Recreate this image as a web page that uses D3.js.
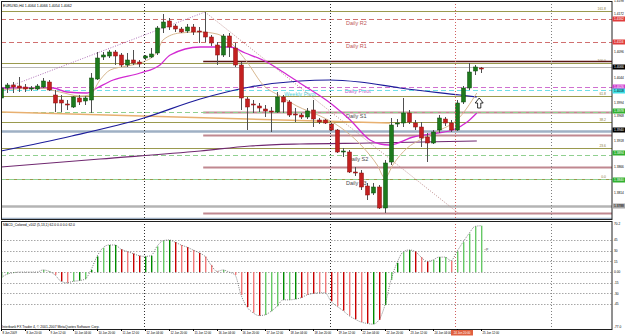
<!DOCTYPE html>
<html>
<head>
<meta charset="utf-8">
<script src="https://cdn.jsdelivr.net/npm/d3@7"></script>
<style>
	body { margin: 0; background: #fff; }
	svg { display: block; }
	text { font-family: "Liberation Sans", Arial, sans-serif; }
</style>
</head>
<body>
<script>
// EURUSD H4 candles, one entry per bar
const opens = [1.4004,1.4024,1.4030,1.4028,1.4026,1.4022,1.4022,1.4026,1.4036,1.4010,
	1.4000,1.3992,1.3986,1.4004,1.3998,1.4000,1.4042,1.4086,1.4088,1.4096,
	1.4090,1.4070,1.4080,1.4076,1.4084,1.4086,1.4094,1.4144,1.4158,1.4148,
	1.4142,1.4138,1.4146,1.4138,1.4136,1.4126,1.4110,1.4090,1.4128,1.4104,
	1.4070,1.4002,1.3992,1.3988,1.3982,1.3978,1.3976,1.4006,1.3996,1.3972,
	1.3970,1.3966,1.3980,1.3960,1.3960,1.3952,1.3940,1.3896,1.3896,1.3856,
	1.3854,1.3828,1.3814,1.3826,1.3784,1.3876,1.3952,1.3954,1.3974,1.3954,
	1.3946,1.3926,1.3914,1.3940,1.3962,1.3954,1.3940,1.3996,1.4024,1.4058,1.4064];
const highs = [1.4028,1.4034,1.4036,1.4046,1.4032,1.4028,1.4032,1.4044,1.4040,1.4020,
	1.4010,1.4000,1.4008,1.4010,1.4008,1.4054,1.4096,1.4096,1.4100,1.4100,
	1.4094,1.4094,1.4100,1.4080,1.4090,1.4104,1.4148,1.4172,1.4164,1.4152,
	1.4146,1.4152,1.4152,1.4146,1.4176,1.4130,1.4116,1.4132,1.4134,1.4114,
	1.4076,1.4006,1.4000,1.3994,1.3990,1.3986,1.4016,1.4010,1.4000,1.3984,
	1.3974,1.3984,1.4000,1.3964,1.3962,1.3954,1.3942,1.3904,1.3900,1.3866,
	1.3860,1.3834,1.3834,1.3830,1.3880,1.3964,1.3962,1.4004,1.3980,1.3960,
	1.3956,1.3934,1.3940,1.3970,1.3966,1.3960,1.4000,1.4028,1.4074,1.4070,1.4066];
const lows = [1.4000,1.4014,1.4014,1.4016,1.4016,1.4018,1.4020,1.4024,1.4018,1.3976,
	1.3976,1.3980,1.3984,1.3990,1.3990,1.3974,1.4040,1.4080,1.4084,1.4070,
	1.4066,1.4066,1.4070,1.4066,1.4080,1.4084,1.4090,1.4134,1.4140,1.4136,
	1.4134,1.4134,1.4130,1.4114,1.4116,1.4108,1.4070,1.4086,1.4086,1.4066,
	1.3980,1.3940,1.3974,1.3976,1.3966,1.3936,1.3974,1.3974,1.3966,1.3956,
	1.3962,1.3962,1.3946,1.3952,1.3952,1.3938,1.3894,1.3886,1.3854,1.3848,
	1.3820,1.3800,1.3810,1.3782,1.3774,1.3870,1.3946,1.3946,1.3952,1.3940,
	1.3906,1.3876,1.3912,1.3934,1.3948,1.3936,1.3938,1.3992,1.4020,1.4050,1.4054];
const closes = [1.4024,1.4030,1.4026,1.4024,1.4022,1.4024,1.4028,1.4038,1.4020,1.3994,
	1.3994,1.3990,1.4006,1.3996,1.4004,1.4044,1.4084,1.4090,1.4096,1.4088,
	1.4070,1.4080,1.4074,1.4072,1.4088,1.4092,1.4144,1.4156,1.4146,1.4142,
	1.4136,1.4146,1.4136,1.4136,1.4126,1.4114,1.4090,1.4128,1.4106,1.4070,
	1.4004,1.3986,1.3990,1.3984,1.3978,1.3976,1.4006,1.3996,1.3970,1.3970,
	1.3966,1.3978,1.3962,1.3956,1.3954,1.3940,1.3896,1.3898,1.3856,1.3854,
	1.3826,1.3810,1.3826,1.3784,1.3874,1.3950,1.3954,1.3974,1.3956,1.3946,
	1.3924,1.3914,1.3936,1.3964,1.3954,1.3940,1.3994,1.4024,1.4056,1.4066,1.4062];

// MACD histogram, one value per bar
const macdValues = [-8,-3,-1,0,0,0,0,3,1,-4,
	-13,-15,-13,-12,-10,3,22,34,38,38,
	32,29,26,23,22,23,36,44,45,42,
	38,35,31,27,22,10,1,3,0,-4,
	-32,-49,-57,-61,-60,-55,-48,-39,-39,-38,
	-36,-32,-30,-29,-29,-41,-48,-54,-61,-66,
	-70,-72,-73,-67,-46,-11,13,28,31,29,
	21,15,17,21,21,16,29,42,54,64,65];
// colour code per bar: G dark green, g light green, R dark red, r light red
const macdColors = ['g','g','g','g','g','g','g','g','g','r',
	'R','r','g','G','g','G','G','g','G','G',
	'R','r','R','R','G','G','g','g','G','R',
	'r','R','r','R','r','r','r','g','g','r',
	'r','R','r','R','g','g','g','G','g','G',
	'R','r','R','r','r','R','r','R','r','R',
	'r','R','G','R','G','g','G','g','G','R',
	'r','R','g','G','g','r','g','g','g','g','g'];

// moving averages as [bar index, price]
const maFast = [[0,1.4020],[6.5,1.4024],[9.8,1.4016],[13.2,1.4008],[14.8,1.4010],[16.5,1.4040],[18.2,1.4060],[21,1.4068],[23.7,1.4076],[26,1.4096],[27,1.4120],[29.8,1.4134],[33.2,1.4136],[36,1.4132],[38.7,1.4110],[41,1.4076],[43.7,1.4030],[46.5,1.4008],[49.3,1.3988],[53.2,1.3968],[56.5,1.3946],[60.3,1.3906],[62.7,1.3870],[64,1.3844],[65.3,1.3870],[67.7,1.3904],[69.8,1.3920],[73.2,1.3940],[76,1.3960],[79.3,1.4014]];
const maMid = [[0,1.4024],[8.7,1.4024],[11,1.4016],[14.3,1.4014],[16,1.4024],[18.7,1.4040],[23.2,1.4054],[26.5,1.4070],[28.2,1.4090],[33.2,1.4106],[38.2,1.4106],[40.7,1.4094],[44.3,1.4076],[47,1.4056],[49.8,1.4034],[55.3,1.3990],[58.2,1.3960],[61.5,1.3920],[63.2,1.3912],[64.8,1.3910],[68.7,1.3926],[72.7,1.3934],[75.3,1.3940],[77.7,1.3956],[79.3,1.3974]];
const maSlow = [[0,1.3898],[11.8,1.3928],[23.8,1.3964],[33.2,1.4002],[41.5,1.4026],[49.8,1.4038],[54.8,1.4040],[59.8,1.4036],[66.5,1.4024],[76.5,1.4010],[79.3,1.4006]];
const maLong = [[0,1.3866],[16.5,1.3882],[33.2,1.3898],[41.5,1.3908],[49.8,1.3912],[61.5,1.3914],[79.3,1.3918]];

// horizontal levels
const fibLevels = [1.4178, 1.4074, 1.4008, 1.3956, 1.3904, 1.3842];
const fibNames = ['161.8', '100.0', '61.8', '38.2', '23.6', '0.0'];
const pivotNames = ['Daily R2', 'Daily R1', 'Daily Pivot', 'Weekly Pivot', 'Daily S1', 'Daily S2', 'Daily S3'];
const pivotValues = [1.4162, 1.4116, 1.4026, 1.4020, 1.3976, 1.3890, 1.3842];
const roseLevels = [1.4078, 1.3976, 1.3930, 1.3866, 1.3774];
const bandLevels = [1.3938, 1.3788, 1.3764];
const bidPrice = 1.4066;

// right axis
const priceTicks = [1.4198, 1.4172, 1.4096, 1.4044, 1.3994, 1.3968, 1.3918, 1.3866, 1.3814];
const boxValues = [1.4162, 1.4116, 1.4066, 1.4026, 1.4018, 1.3978, 1.3940, 1.3894, 1.3840, 1.3788];
const boxColors = ['#e03c3c', '#e03c3c', '#000000', '#d040d0', '#40e0e8', '#30b030', '#000000', '#30b030', '#30b030', '#a8a8a8'];
const macdTicks = [45, 30, 15, 0, -15, -30, -45];
const macdTickLabels = ['45', '30', '15', '0.00', '-15', '-30', '-45'];

// time axis: a label every 4 bars
const timeLabels = ['8 Jun 2009', '8 Jun 20:00', '9 Jun 12:00', '10 Jun 04:00', '10 Jun 20:00', '11 Jun 12:00',
	'12 Jun 04:00', '12 Jun 20:00', '15 Jun 12:00', '16 Jun 04:00', '16 Jun 20:00', '17 Jun 12:00',
	'18 Jun 04:00', '18 Jun 20:00', '19 Jun 12:00', '22 Jun 04:00', '22 Jun 20:00', '23 Jun 12:00',
	'24 Jun 04:00', '24 Jun 20:00', '25 Jun 12:00'];
const separators = [23.83, 54.83, 75.67, 91.67];

function renderChart() {
	let width = 625, height = 336;
	let plotRight = 612;
	let svg = d3.select('body').append('svg')
		.attr('width', width)
		.attr('height', height);
	svg.append('rect').attr('width', width).attr('height', height).attr('fill', '#fff');

	let x = d3.scaleLinear().domain([0, 80]).range([1, 481]);
	let y = d3.scaleLinear().domain([1.42, 1.3764]).range([0, 218]);
	let ym = d3.scaleLinear().domain([70.2, -77]).range([222, 327]);
	let px = v => Math.round(x(v)) + 0.5;
	let py = v => Math.round(y(v)) + 0.5;

	let main = svg.append('g').attr('id', 'main');
	svg.append('clipPath').attr('id', 'clipMain')
		.append('rect').attr('x', 1).attr('y', 1).attr('width', plotRight - 1).attr('height', 218);
	let plot = main.append('g').attr('clip-path', 'url(#clipMain)');

	// period separators
	separators.forEach((s, k) => {
		[[1, 219], [221, 329]].forEach(r => {
			svg.append('line')
				.attr('x1', px(s)).attr('x2', px(s))
				.attr('y1', r[0]).attr('y2', r[1])
				.attr('stroke', k == 2 ? '#d06060' : (k == 3 ? '#808080' : '#303030'))
				.attr('stroke-width', 1)
				.attr('stroke-dasharray', '1,2');
		});
	});

	// thick bands
	bandLevels.forEach((v, k) => {
		plot.append('line')
			.attr('x1', 1).attr('x2', plotRight)
			.attr('y1', py(v)).attr('y2', py(v))
			.attr('stroke', k == 1 ? '#b4b4b4' : '#9fb0c4')
			.attr('stroke-width', k == 2 ? 1.5 : 2.5);
	});
	// fibo levels
	fibLevels.forEach((v, k) => {
		plot.append('line')
			.attr('x1', 1).attr('x2', plotRight)
			.attr('y1', py(v)).attr('y2', py(v))
			.attr('stroke', '#9a9a4e')
			.attr('stroke-width', 1.2);
		plot.append('text')
			.attr('x', 606).attr('y', py(v) - 1.5)
			.attr('text-anchor', 'end')
			.attr('font-size', '3.4px')
			.attr('fill', '#8a7a3a')
			.text(fibNames[k]);
	});
	// rose levels drawn from the high bar onwards
	roseLevels.forEach((v, k) => {
		plot.append('line')
			.attr('x1', x(33.7)).attr('x2', plotRight)
			.attr('y1', py(v)).attr('y2', py(v))
			.attr('stroke', k == 0 ? '#5a1414' : '#c08890')
			.attr('stroke-width', k == 0 ? 1.5 : 2);
	});
	// bid line
	plot.append('line')
		.attr('x1', 1).attr('x2', plotRight)
		.attr('y1', py(bidPrice)).attr('y2', py(bidPrice))
		.attr('stroke', '#b8b8b8').attr('stroke-width', 1);

	// pivot lines
	let pivotColor = ['#d07070', '#d07070', '#d070d0', '#70e0e8', '#90d090', '#90d090', '#90d090'];
	let pivotText = ['#c05858', '#c05858', '#c060c8', '#50d0d8', '#4a4a4a', '#4a4a4a', '#4a4a4a'];
	let pivotLabelX = [57.5, 57.5, 57.3, 47.2, 57.5, 57.8, 57.5];
	pivotValues.forEach((v, k) => {
		plot.append('line')
			.attr('x1', 1).attr('x2', plotRight)
			.attr('y1', py(v)).attr('y2', py(v))
			.attr('stroke', pivotColor[k])
			.attr('stroke-width', 1)
			.attr('stroke-dasharray', '5,3');
		plot.append('text')
			.attr('x', x(pivotLabelX[k])).attr('y', py(v) + 5)
			.attr('font-size', '5.5px')
			.attr('fill', pivotText[k])
			.text(pivotNames[k]);
	});

	// orange trend line and dotted trend lines
	let line = d3.line().x(function(d){
			return x(d[0]);
		}).y(function(d){
			return y(d[1]);
	});
	plot.append('path').attr('d', line([[0, 1.3976], [64.8, 1.3954]]))
		.attr('stroke', '#e8b070').attr('stroke-width', 1.5).attr('fill', 'none');
	plot.append('path').attr('d', line([[0.7, 1.4024], [34, 1.4176]]))
		.attr('stroke', '#b070b8').attr('stroke-width', 1).attr('stroke-dasharray', '1,1.5').attr('fill', 'none');
	plot.append('path').attr('d', line([[34, 1.4176], [76.2, 1.3774]]))
		.attr('stroke', '#c09090').attr('stroke-width', 1).attr('stroke-dasharray', '1,1.5').attr('fill', 'none');

	// moving averages
	let curve = d3.line().curve(d3.curveMonotoneX)
		.x(d => x(d[0])).y(d => y(d[1]));
	[[maLong, '#702870', 1.2], [maSlow, '#1c1c9a', 1.2], [maMid, '#d22ad2', 1.3], [maFast, '#d8b890', 1]].forEach(m => {
		plot.append('path').attr('d', curve(m[0]))
			.attr('stroke', m[1]).attr('stroke-width', m[2]).attr('fill', 'none');
	});

	// candles
	let bars = d3.range(opens.length);
	let candle = plot.append('g').selectAll('g').data(bars).join('g');
	candle.append('line')
		.attr('x1', i => px(i)).attr('x2', i => px(i))
		.attr('y1', i => y(highs[i])).attr('y2', i => y(lows[i]))
		.attr('stroke', '#505050').attr('stroke-width', 1);
	candle.append('rect')
		.attr('x', i => Math.round(x(i)) - 1.5)
		.attr('width', 4)
		.attr('y', i => y(Math.max(opens[i], closes[i])))
		.attr('height', i => Math.max(1, Math.abs(y(opens[i]) - y(closes[i]))))
		.attr('fill', i => closes[i] >= opens[i] ? '#1d7a1d' : '#c42020')
		.attr('stroke', i => closes[i] >= opens[i] ? '#0c4a0c' : '#8a1010')
		.attr('stroke-width', 0.5);

	// hollow up arrow under the last bars
	let ax = x(79.7), ay = y(1.3994);
	plot.append('path')
		.attr('d', `M${ax},${ay - 5} L${ax + 4},${ay} L${ax + 1.6},${ay} L${ax + 1.6},${ay + 5} L${ax - 1.6},${ay + 5} L${ax - 1.6},${ay} L${ax - 4},${ay} Z`)
		.attr('fill', '#fff').attr('stroke', '#000').attr('stroke-width', 0.8);

	// header
	let last = opens.length - 1;
	let fmt = d3.format('.4f');
	svg.append('text').attr('x', 3).attr('y', 7).attr('font-size', '3.6px').attr('fill', '#000')
		.text('EURUSD,H4  ' + [opens[last], highs[last], lows[last], closes[last]].map(fmt).join(' '));

	// MACD panel
	let macd = svg.append('g').attr('id', 'macd');
	macdTicks.forEach(t => {
		macd.append('line')
			.attr('x1', 1).attr('x2', plotRight)
			.attr('y1', Math.round(ym(t)) + 0.5).attr('y2', Math.round(ym(t)) + 0.5)
			.attr('stroke', '#909090').attr('stroke-width', 0.8)
			.attr('stroke-dasharray', '1.5,1.5');
	});
	let macdColor = {G: '#008a00', g: '#66c866', R: '#c80000', r: '#f07878'};
	macd.append('g').selectAll('rect').data(bars).join('rect')
		.attr('x', i => Math.round(x(i)))
		.attr('width', 1.4)
		.attr('y', i => Math.min(ym(0), ym(macdValues[i])))
		.attr('height', i => Math.abs(ym(macdValues[i]) - ym(0)))
		.attr('fill', i => macdColor[macdColors[i]]);
	macd.append('path')
		.attr('d', d3.line().curve(d3.curveMonotoneX).x(i => x(i)).y(i => ym(macdValues[i]))(bars))
		.attr('stroke', '#606060').attr('stroke-width', 0.8)
		.attr('stroke-dasharray', '1,1.2').attr('fill', 'none');
	macd.append('text').attr('x', x(80) + 3).attr('y', ym(31) + 1).attr('font-size', '3.4px').attr('fill', '#404040').text('~P');
	svg.append('text').attr('x', 3).attr('y', 225.5).attr('font-size', '3.4px').attr('fill', '#000')
		.text('MACD_Colored_v102 (5,13,1) 62.0 0.0 0.0 62.0');
	svg.append('text').attr('x', 2).attr('y', 328).attr('font-size', '3.4px').attr('fill', '#000')
		.text('Interbank FX Trader 4, \u00a9 2001-2007 MetaQuotes Software Corp.');

	// frames
	[[1, 219], [221, 329]].forEach(r => {
		svg.append('rect')
			.attr('x', 1.5).attr('y', r[0] + 0.5)
			.attr('width', plotRight - 1.5).attr('height', r[1] - r[0])
			.attr('fill', 'none').attr('stroke', '#202020').attr('stroke-width', 1);
	});

	// right axis, price
	let axisText = svg.append('g').attr('font-size', '3.2px');
	priceTicks.forEach(t => {
		axisText.append('text').attr('x', 614).attr('y', y(t) + 1.2).attr('fill', '#000').text(fmt(t));
	});
	boxValues.forEach((v, k) => {
		axisText.append('rect').attr('x', plotRight + 0.5).attr('y', y(v) - 2.5).attr('width', 12.5).attr('height', 5)
			.attr('fill', boxColors[k]);
		axisText.append('text').attr('x', 614).attr('y', y(v) + 1.2)
			.attr('fill', (k == 4 || k == 9) ? '#000' : '#fff').text(fmt(v));
	});
	macdTicks.forEach((t, k) => {
		axisText.append('text').attr('x', 614).attr('y', ym(t) + 1.2).attr('fill', '#000').text(macdTickLabels[k]);
	});
	axisText.append('text').attr('x', 614).attr('y', 225).attr('fill', '#000').text('70.2');
	axisText.append('text').attr('x', 614).attr('y', 328).attr('fill', '#000').text('-77.0');

	// time axis
	let timeAxis = svg.append('g').attr('font-size', '2.9px');
	timeLabels.forEach((lbl, k) => {
		let xi = px(k * 4);
		timeAxis.append('line').attr('x1', xi).attr('x2', xi).attr('y1', 329).attr('y2', 331).attr('stroke', '#000');
		if (k * 4 == 76) return; // hidden under the red marker
		timeAxis.append('text').attr('x', xi + 1).attr('y', 334).attr('fill', '#000').text(lbl);
	});
	timeAxis.append('rect').attr('x', 451).attr('y', 330).attr('width', 22).attr('height', 5.5).attr('fill', '#e06040');
	timeAxis.append('text').attr('x', 462).attr('y', 334).attr('text-anchor', 'middle').attr('fill', '#fff').text(timeLabels[19]);
}
renderChart();
</script>
</body>
</html>
